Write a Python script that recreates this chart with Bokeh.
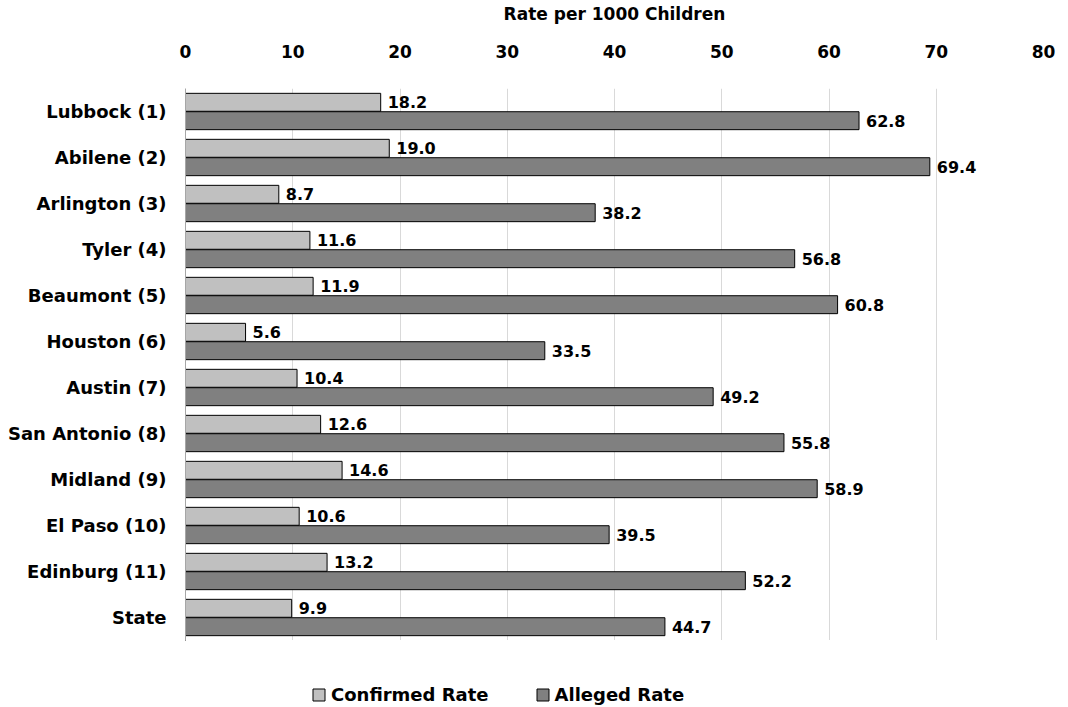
from bokeh.plotting import figure
from bokeh.layouts import column
from bokeh.models import ColumnDataSource, FactorRange, Legend, LegendItem, Range1d, SingleIntervalTicker
from bokeh.transform import dodge
from bokeh.core.properties import value
from bokeh.embed import file_html
from bokeh.resources import INLINE

cities = ["Lubbock (1)", "Abilene (2)", "Arlington (3)", "Tyler (4)", "Beaumont (5)",
          "Houston (6)", "Austin (7)", "San Antonio (8)", "Midland (9)", "El Paso (10)",
          "Edinburg (11)", "State"]
confirmed = [18.2, 19.0, 8.7, 11.6, 11.9, 5.6, 10.4, 12.6, 14.6, 10.6, 13.2, 9.9]
alleged = [62.8, 69.4, 38.2, 56.8, 60.8, 33.5, 49.2, 55.8, 58.9, 39.5, 52.2, 44.7]
series = ["Confirmed Rate", "Alleged Rate"]
colors = ["#C0C0C0", "#808080"]

FONT = "DejaVu Sans"
W = 1060

src = ColumnDataSource(dict(
    city=cities, confirmed=confirmed, alleged=alleged,
    clab=[f"{v:.1f}" for v in confirmed], alab=[f"{v:.1f}" for v in alleged],
))

p = figure(width=W, height=640, output_backend="svg", toolbar_location=None,
           y_range=FactorRange(factors=list(reversed(cities))),
           x_range=Range1d(0, 80), x_axis_location="above",
           min_border_left=185, min_border_right=W - 1043, min_border_top=88, min_border_bottom=0)

p.hbar(y=dodge("city", 0.2, range=p.y_range), right="confirmed", height=0.39, left=0,
       source=src, fill_color=colors[0], line_color="#000000", line_width=1)
p.hbar(y=dodge("city", -0.2, range=p.y_range), right="alleged", height=0.39, left=0,
       source=src, fill_color=colors[1], line_color="#000000", line_width=1)

p.text(x="confirmed", y=dodge("city", 0.2, range=p.y_range), text="clab", source=src,
       x_offset=7, text_align="left", text_baseline="middle", text_font=value(FONT),
       text_font_style="bold", text_font_size="16px", text_color="#000000")
p.text(x="alleged", y=dodge("city", -0.2, range=p.y_range), text="alab", source=src,
       x_offset=7, text_align="left", text_baseline="middle", text_font=value(FONT),
       text_font_style="bold", text_font_size="16px", text_color="#000000")

p.outline_line_color = None
p.ygrid.grid_line_color = None
p.xgrid.grid_line_color = "#D9D9D9"
p.xgrid.grid_line_width = 1

xa = p.xaxis[0]
xa.ticker = SingleIntervalTicker(interval=10)
xa.axis_label = "Rate per 1000 Children"
xa.axis_label_text_font = FONT
xa.axis_label_text_font_style = "bold"
xa.axis_label_text_font_size = "17px"
xa.axis_label_text_color = "#000000"
xa.axis_label_standoff = 18
xa.major_label_text_font = FONT
xa.major_label_text_font_style = "bold"
xa.major_label_text_font_size = "17px"
xa.major_label_text_color = "#000000"
xa.major_label_standoff = 25
xa.axis_line_color = None
xa.major_tick_line_color = None
xa.minor_tick_line_color = None

ya = p.yaxis[0]
ya.major_label_text_font = FONT
ya.major_label_text_font_style = "bold"
ya.major_label_text_font_size = "18px"
ya.major_label_text_color = "#000000"
ya.major_label_standoff = 13
ya.axis_line_color = "#A6A6A6"
ya.major_tick_line_color = None
ya.minor_tick_line_color = None

# legend strip below the chart (proxy glyphs lie outside the visible range)
lf = figure(width=W, height=66, output_backend="svg", toolbar_location=None,
            x_range=Range1d(0, 1), y_range=Range1d(0, 1),
            min_border_left=185, min_border_right=W - 1043, min_border_top=0, min_border_bottom=0)
lf.axis.visible = False
lf.grid.visible = False
lf.outline_line_color = None
proxy = ColumnDataSource(dict(y=[5], right=[0]))
lr = [lf.hbar(y="y", right="right", height=0.3, source=proxy, fill_color=c, line_color="#000000")
      for c in colors]
legend = Legend(items=[LegendItem(label=s, renderers=[r]) for s, r in zip(series, lr)],
                orientation="horizontal", location=(126, 1),
                label_text_font=FONT, label_text_font_style="bold", label_text_font_size="18px",
                label_text_color="#000000", glyph_width=15, glyph_height=15, label_height=20,
                spacing=46, label_standoff=5, border_line_color=None,
                margin=0, padding=2, background_fill_alpha=0)
lf.add_layout(legend, "center")

layout = column(p, lf, spacing=0)
open("out.html", "w").write(file_html(layout, INLINE))
